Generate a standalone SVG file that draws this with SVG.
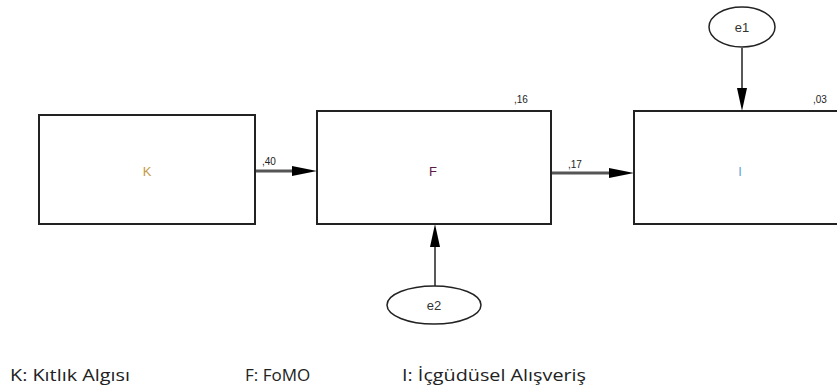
<svg xmlns="http://www.w3.org/2000/svg" width="837" height="392" viewBox="0 0 837 392">
<style>
.box{fill:#fff;stroke:#222;stroke-width:2}
.ell{fill:#fff;stroke:#222;stroke-width:1.5}
.hl{stroke:#555;stroke-width:3;fill:none}
.vl{stroke:#222;stroke-width:1.5;fill:none}
.lbl{font-family:"Liberation Sans",Arial,sans-serif;font-size:13px;text-anchor:middle}
.coef{font-family:"Liberation Sans",Arial,sans-serif;font-size:10px;fill:#222}
.leg{font-family:"Open Sans","Noto Sans",sans-serif;font-size:17px;fill:#222}
</style>
<g id="connectors">
<line class="hl" x1="255" y1="171" x2="294" y2="171"/>
<path d="M292,166 L317,171 L292,176 Z" fill="#000"/>
<line class="hl" x1="551" y1="173" x2="611" y2="173"/>
<path d="M609,168 L634,173 L609,178 Z" fill="#000"/>
<line class="vl" x1="742" y1="48" x2="742" y2="92"/>
<path d="M737,88 L742,111 L747,88 Z" fill="#000"/>
<line class="vl" x1="435" y1="287" x2="435" y2="245"/>
<path d="M430,247 L435,224 L440,247 Z" fill="#000"/>
<text class="coef" x="262" y="165">,40</text>
<text class="coef" x="568" y="168">,17</text>
</g>
<g id="K">
<rect class="box" x="39" y="115" width="216" height="109"/>
<text class="lbl" x="147" y="176" fill="#c49a45">K</text>
</g>
<g id="F">
<rect class="box" x="317" y="111" width="234" height="113"/>
<text class="lbl" x="433" y="176" fill="#5a1a45">F</text>
<text class="coef" x="514" y="103">,16</text>
</g>
<g id="I">
<rect class="box" x="634" y="111" width="210" height="113"/>
<text class="lbl" x="740" y="176" fill="#6aa5d5">I</text>
<text class="coef" x="813" y="103">,03</text>
</g>
<g id="e1">
<ellipse class="ell" cx="742" cy="27" rx="33" ry="20"/>
<text class="lbl" x="742" y="32" fill="#333">e1</text>
</g>
<g id="e2">
<ellipse class="ell" cx="434" cy="305" rx="47" ry="19"/>
<text class="lbl" x="434" y="310" fill="#333">e2</text>
</g>
<g id="legend">
<text class="leg" x="10" y="381" textLength="120" lengthAdjust="spacingAndGlyphs">K: Kıtlık Algısı</text>
<text class="leg" x="245" y="381">F: FoMO</text>
<text class="leg" x="402" y="381" textLength="184" lengthAdjust="spacingAndGlyphs">I: İçgüdüsel Alışveriş</text>
</g>
</svg>
